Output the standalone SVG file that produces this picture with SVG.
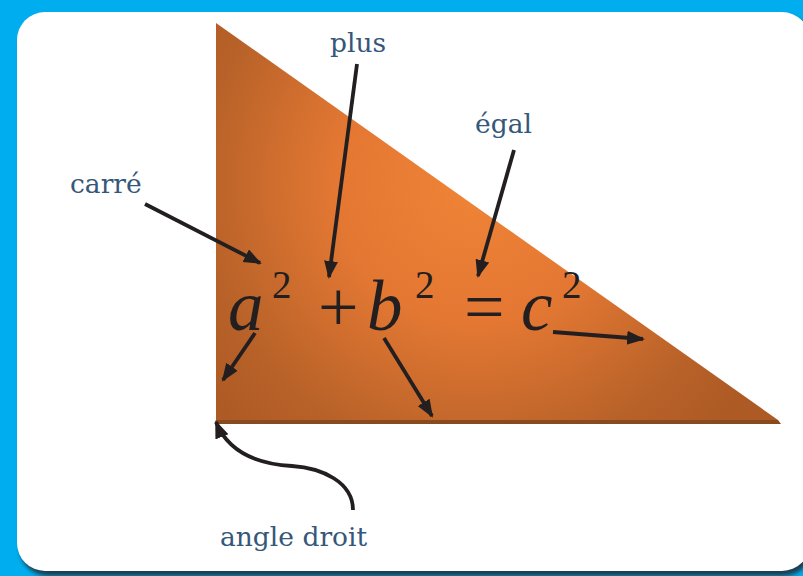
<svg xmlns="http://www.w3.org/2000/svg" width="803" height="576" viewBox="0 0 803 576">
<defs>
<style>
.lbl{font-family:"DejaVu Serif","Liberation Serif",serif;font-size:26.5px;fill:#35577a}
.eqi{font-family:"Liberation Serif","Times New Roman",serif;font-style:italic;font-size:71px;fill:#231f20}
.eq{font-family:"Liberation Serif","Times New Roman",serif;font-size:72px;fill:#231f20}
.sup{font-family:"Liberation Serif","Times New Roman",serif;font-size:39px;fill:#231f20}
.arr{fill:none;stroke:#231f20;stroke-width:3.8;marker-end:url(#ah)}
</style>
<marker id="ah" markerUnits="userSpaceOnUse" markerWidth="20" markerHeight="16" refX="16" refY="7" orient="auto">
<path d="M0,0 L18,7 L0,14 Z" fill="#231f20"/>
</marker>
<radialGradient id="tg" gradientUnits="userSpaceOnUse" cx="475" cy="185" r="340">
<stop offset="0" stop-color="#EF8336"/>
<stop offset="0.4" stop-color="#E47833"/>
<stop offset="0.8" stop-color="#B86229"/>
<stop offset="1" stop-color="#AE5A24"/>
</radialGradient>
<filter id="sh" x="-5%" y="-5%" width="110%" height="110%"><feGaussianBlur stdDeviation="2"/></filter>
</defs>
<rect width="803" height="576" fill="#00AEEF"/>
<rect x="20" y="16" width="792" height="560" rx="28" fill="#1B3C50" filter="url(#sh)"/>
<rect x="17" y="12" width="793" height="559" rx="28" fill="#ffffff"/>
<g id="triangle">
<polygon points="216,23 216,420 778,420" fill="url(#tg)"/>
<polygon points="216,420 778,420 781,424 216,424" fill="#8A4A1F"/>
</g>
<g id="equation">
<text class="eqi" x="228" y="330">a</text>
<text class="sup" x="272" y="298">2</text>
<text class="eq" x="318" y="331">+</text>
<text class="eqi" x="367" y="330">b</text>
<text class="sup" x="415" y="298">2</text>
<text class="eq" x="464" y="331">=</text>
<text class="eqi" x="521" y="330">c</text>
<text class="sup" x="562" y="298">2</text>
</g>
<g id="label-carre"><text class="lbl" x="70" y="193">carré</text></g>
<g id="label-plus"><text class="lbl" x="330" y="52">plus</text></g>
<g id="label-egal"><text class="lbl" x="475" y="133">égal</text></g>
<g id="label-angle"><text class="lbl" x="220" y="546">angle droit</text></g>
<g id="connectors">
<line class="arr" x1="145" y1="204" x2="260" y2="263"/>
<line class="arr" x1="357" y1="64" x2="329" y2="277"/>
<line class="arr" x1="514" y1="150" x2="478" y2="276"/>
<line class="arr" x1="553" y1="332" x2="643" y2="339"/>
<line class="arr" x1="255" y1="333" x2="223" y2="380"/>
<line class="arr" x1="384" y1="338" x2="432" y2="416"/>
<path class="arr" d="M353,510 C353,482 322,468 292,466 C258,464 228,452 216,422"/>
</g>
</svg>
